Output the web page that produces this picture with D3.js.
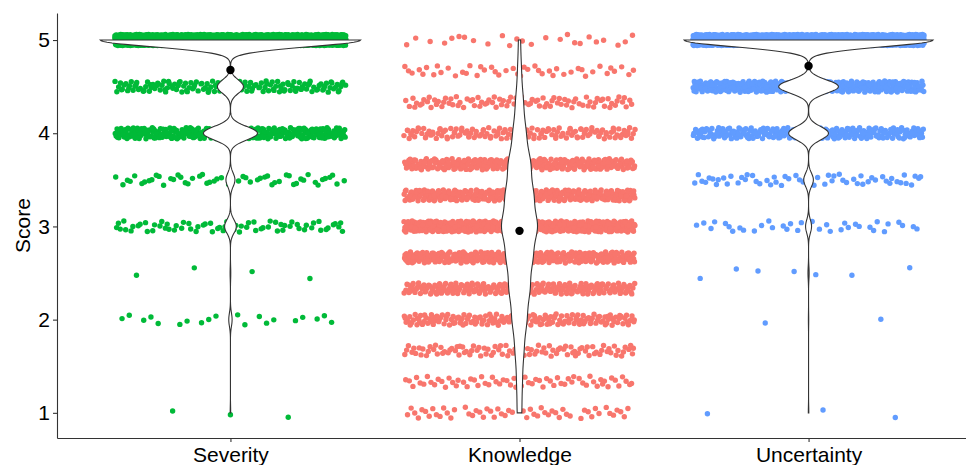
<!DOCTYPE html>
<html>
<head>
<meta charset="utf-8">
<script src="https://cdn.jsdelivr.net/npm/d3@7"></script>
<style>
  body { margin: 0; background: #fff; }
  text { font-family: Arial, "Liberation Sans", sans-serif; }
</style>
</head>
<body>
<svg id="chart" width="966" height="465"></svg>
<script>
const categories = ["Severity", "Knowledge", "Uncertainty"];
const colors = ["#00BA38", "#F8766D", "#619CFF"];

const severityLevels = [1, 2, 2.5, 3, 3.5, 4, 4.5, 5];
const severityCounts = [3, 20, 4, 70, 54, 324, 156, 1560];
const knowledgeLevels = [1, 1.333, 1.667, 2, 2.333, 2.667, 3, 3.333, 3.667, 4, 4.333, 4.667, 5];
const knowledgeCounts = [55, 65, 100, 170, 240, 300, 420, 320, 260, 150, 90, 45, 25];
const uncertaintyLevels = [1, 2, 2.5, 3, 3.5, 4, 4.5, 5];
const uncertaintyCounts = [3, 2, 7, 36, 58, 240, 360, 1500];

const yTicks = [1, 2, 3, 4, 5];

const allLevels = [severityLevels, knowledgeLevels, uncertaintyLevels];
const allCounts = [severityCounts, knowledgeCounts, uncertaintyCounts];

// bandwidth like R's bw.nrd0
function nrd0(v) {
  const sd = d3.deviation(v);
  const iqr = d3.quantile(v, 0.75) - d3.quantile(v, 0.25);
  let lo = Math.min(sd, iqr / 1.34);
  if (!(lo > 0)) lo = sd || Math.abs(v[0]) || 1;
  return 0.9 * lo * Math.pow(v.length, -0.2);
}

const groups = categories.map((name, gi) => {
  const levels = allLevels[gi];
  const counts = allCounts[gi];
  const values = levels.flatMap((l, i) => d3.range(counts[i]).map(() => l)).sort(d3.ascending);
  const n = values.length;
  const bw = nrd0(values);
  const lo = d3.min(values), hi = d3.max(values);
  const grid = d3.range(512).map(i => lo + (hi - lo) * i / 511);
  const dens = grid.map(g => {
    let s = 0;
    for (let k = 0; k < levels.length; ++k) {
      const z = (g - levels[k]) / bw;
      s += counts[k] * Math.exp(-0.5 * z * z);
    }
    return s / (n * bw * Math.sqrt(2 * Math.PI));
  });
  return { name, color: colors[gi], levels, counts, grid, dens, mean: d3.mean(values) };
});

const svg = d3.select("#chart");

const x = d3.scalePoint().domain(categories).range([57, 982]).padding(0.6);
const y = d3.scaleLinear().domain([0.73, 5.29]).range([438, 13]);
const step = x.step();

// deterministic jitter: Halton sequence, bases 2 and 3
function halton(i, b) {
  let f = 1, r = 0;
  while (i > 0) { f /= b; r += f * (i % b); i = Math.floor(i / b); }
  return r;
}

const pts = [];
groups.forEach((g, gi) => {
  let idx = 1 + gi * 4099;
  g.levels.forEach((l, li) => {
    for (let j = 0; j < g.counts[li]; ++j, ++idx) {
      const u = halton(idx, 2) * 2 - 1;
      const v = halton(idx, 3) * 2 - 1;
      pts.push({ cat: g.name, color: g.color, score: l, jx: u * 0.4, jy: v * 0.06 });
    }
  });
});

svg.append("g")
  .selectAll("circle")
  .data(pts)
  .join("circle")
  .attr("cx", d => x(d.cat) + d.jx * step)
  .attr("cy", d => y(d.score + d.jy))
  .attr("r", 2.7)
  .attr("fill", d => d.color);

// violins, scale = "area": one max density for all groups
const maxD = d3.max(groups, g => d3.max(g.dens));
const w = d3.scaleLinear().domain([0, maxD]).range([0, 0.45 * step]);

const area = d3.area()
  .y(d => y(d[0]))
  .x0(d => d[2] - w(d[1]))
  .x1(d => d[2] + w(d[1]));

svg.append("g")
  .selectAll("path")
  .data(groups)
  .join("path")
  .attr("d", g => area(g.grid.map((v, i) => [v, g.dens[i], x(g.name)])))
  .attr("fill", "#fff")
  .attr("stroke", "#333")
  .attr("stroke-width", 1.1);

svg.append("g")
  .selectAll("circle")
  .data(groups)
  .join("circle")
  .attr("cx", g => x(g.name))
  .attr("cy", g => y(g.mean))
  .attr("r", 4.2)
  .attr("fill", "#000");

// axes
const xAxis = d3.axisBottom(x).tickSize(4).tickPadding(5).tickSizeOuter(0);
const yAxis = d3.axisLeft(y).tickValues(yTicks).tickFormat(d3.format("d"))
  .tickSize(4).tickPadding(3).tickSizeOuter(0);

const gx = svg.append("g").attr("transform", `translate(0,438)`).call(xAxis);
const gy = svg.append("g").attr("transform", `translate(57,0)`).call(yAxis);

[gx, gy].forEach(g => {
  g.select(".domain").attr("stroke", "#333").attr("stroke-width", 1.1);
  g.selectAll(".tick line").attr("stroke", "#333").attr("stroke-width", 1.1);
  g.selectAll(".tick text")
    .attr("fill", "#000")
    .style("font-size", "21px")
    .style("font-family", "Arial, 'Liberation Sans', sans-serif");
});

svg.append("text")
  .attr("transform", "translate(30,225.5) rotate(-90)")
  .attr("text-anchor", "middle")
  .style("font-size", "21px")
  .attr("fill", "#000")
  .text("Score");
</script>
</body>
</html>
